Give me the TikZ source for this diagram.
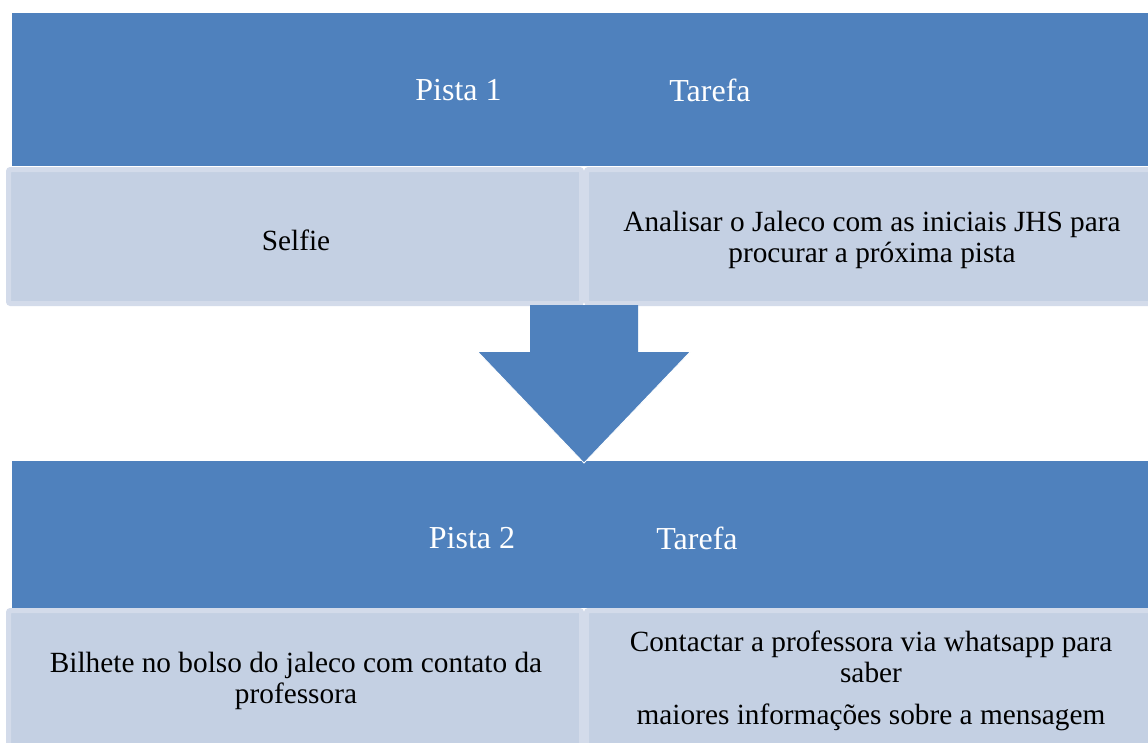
\documentclass[tikz,border=0pt]{standalone}
\usepackage{fontspec}
\setmainfont{Liberation Serif}
\definecolor{hdr}{RGB}{79,129,189}
\definecolor{cellfill}{RGB}{196,208,227}
\definecolor{cellborder}{RGB}{211,219,234}
\begin{document}
\begin{tikzpicture}[x=1pt,y=-1pt,
  header/.style={fill=hdr, draw=none, inner sep=0pt, outer sep=0pt, anchor=north west},
  cell/.style={fill=cellfill, draw=cellborder, line width=5pt, rounded corners=2pt, inner sep=0pt, outer sep=0pt},
  txt/.style={font=\fontsize{29.3}{31}\selectfont, align=center, text=black, inner sep=0pt},
  htxt/.style={font=\fontsize{32}{34}\selectfont, text=white, inner sep=0pt}]
\useasboundingbox (0,0) rectangle (1148,742);
\fill[white] (0,0) rectangle (1148,742);
% top row
\node[header, minimum width=1140pt, minimum height=153pt] (h1) at (12,13) {};
\node[cell, minimum width=573pt, minimum height=134pt] (c1l) at (295,236.5) {};
\node[cell, minimum width=570pt, minimum height=134pt] (c1r) at (871.5,236.5) {};
% bottom row
\node[header, minimum width=1140pt, minimum height=147pt] (h2) at (12,461) {};
\node[cell, minimum width=573pt, minimum height=150pt] (c2l) at (295,685.5) {};
\node[cell, minimum width=570pt, minimum height=150pt] (c2r) at (871.5,685.5) {};
% arrow
\fill[hdr] (530,305) -- (638,305) -- (638,352) -- (690,352) -- (584,463) -- (478,352) -- (530,352) -- cycle;
\draw[white, line width=0.8pt] (478,352) -- (584,463) -- (690,352);
% texts
\node[htxt] (p1) at (458.5,90) {Pista 1};
\node[htxt] (t1) at (710,90) {Tarefa};
\node[txt] (s1) at (296,240) {Selfie};
\node[txt] (a1) at (872,239.5) {Analisar o Jaleco com as iniciais JHS para\\procurar a próxima pista};
\node[htxt] (p2) at (472,538) {Pista 2};
\node[htxt] (t2) at (697,538) {Tarefa};
\node[txt] (b2) at (296,681) {Bilhete no bolso do jaleco com contato da\\professora};
\node[txt] (c2) at (871,680.5) {Contactar a professora via whatsapp para\\saber\\[11pt]maiores informações sobre a mensagem};
\end{tikzpicture}
\end{document}
